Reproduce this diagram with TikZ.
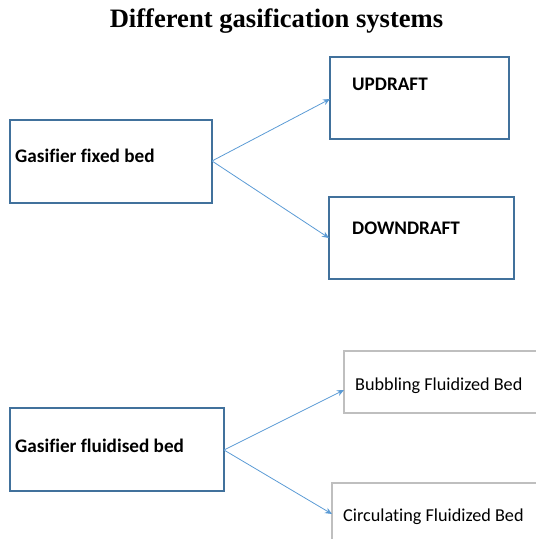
\documentclass[tikz,border=0pt]{standalone}
\usepackage{fontspec}
\setmainfont{Liberation Serif}
\newfontfamily\calfont[Ligatures=NoCommon]{Carlito}
\usetikzlibrary{arrows.meta}
\definecolor{boxblue}{HTML}{41719C}
\definecolor{boxgrey}{HTML}{BFBFBF}
\definecolor{arrowblue}{HTML}{5B9BD5}
\tikzset{
  px/.style={x=1pt,y=-1pt},
  bluebox/.style={draw=boxblue,line width=1.2pt,inner sep=0pt},
  greybox/.style={draw=boxgrey,line width=1.2pt,inner sep=0pt},
  boldlabel/.style={anchor=base west,inner sep=0pt,font=\calfont\bfseries\fontsize{19.2}{22}\selectfont},
  plainlabel/.style={anchor=base west,inner sep=0pt,font=\calfont\fontsize{18.2}{22}\selectfont},
  flow/.style={draw=arrowblue,line width=0.8pt,-{Stealth[length=7pt,width=6pt]}}
}
\begin{document}
\begin{tikzpicture}[px]
\useasboundingbox (0,0) rectangle (536,539);
\clip (0,0) rectangle (536,539);

% title
\node[anchor=base,inner sep=0pt,font=\bfseries\fontsize{26.6}{30}\selectfont] (title) at (276.5,27) {Different gasification systems};

% fixed bed group
\draw[bluebox] (10,120) rectangle (212,203);
\coordinate (fixedR) at (212,161);
\node[boldlabel] (fixedtxt) at (15,162) {Gasifier fixed bed};

\draw[bluebox] (330,57) rectangle (509,139);
\coordinate (upL) at (330,99);
\node[boldlabel] (uptxt) at (352,90) {UPDRAFT};

\draw[bluebox] (329,197) rectangle (514,279);
\coordinate (downL) at (329,238);
\node[boldlabel] (downtxt) at (352,234) {DOWNDRAFT};

\draw[flow] (fixedR) -- (upL);
\draw[flow] (fixedR) -- (downL);

% fluidised bed group
\draw[bluebox] (10,408) rectangle (224,491);
\coordinate (fluidR) at (224,450);
\node[boldlabel] (fluidtxt) at (15,452) {Gasifier fluidised bed};

\draw[greybox] (344,351) rectangle (545,413);
\coordinate (bubL) at (344,390);
\node[plainlabel] (bubtxt) at (355,390) {Bubbling Fluidized Bed};

\draw[greybox] (332,483) rectangle (545,560);
\coordinate (circL) at (332,514);
\node[plainlabel] (circtxt) at (343,521) {Circulating Fluidized Bed};

\draw[flow] (fluidR) -- (bubL);
\draw[flow] (fluidR) -- (circL);
\end{tikzpicture}
\end{document}
